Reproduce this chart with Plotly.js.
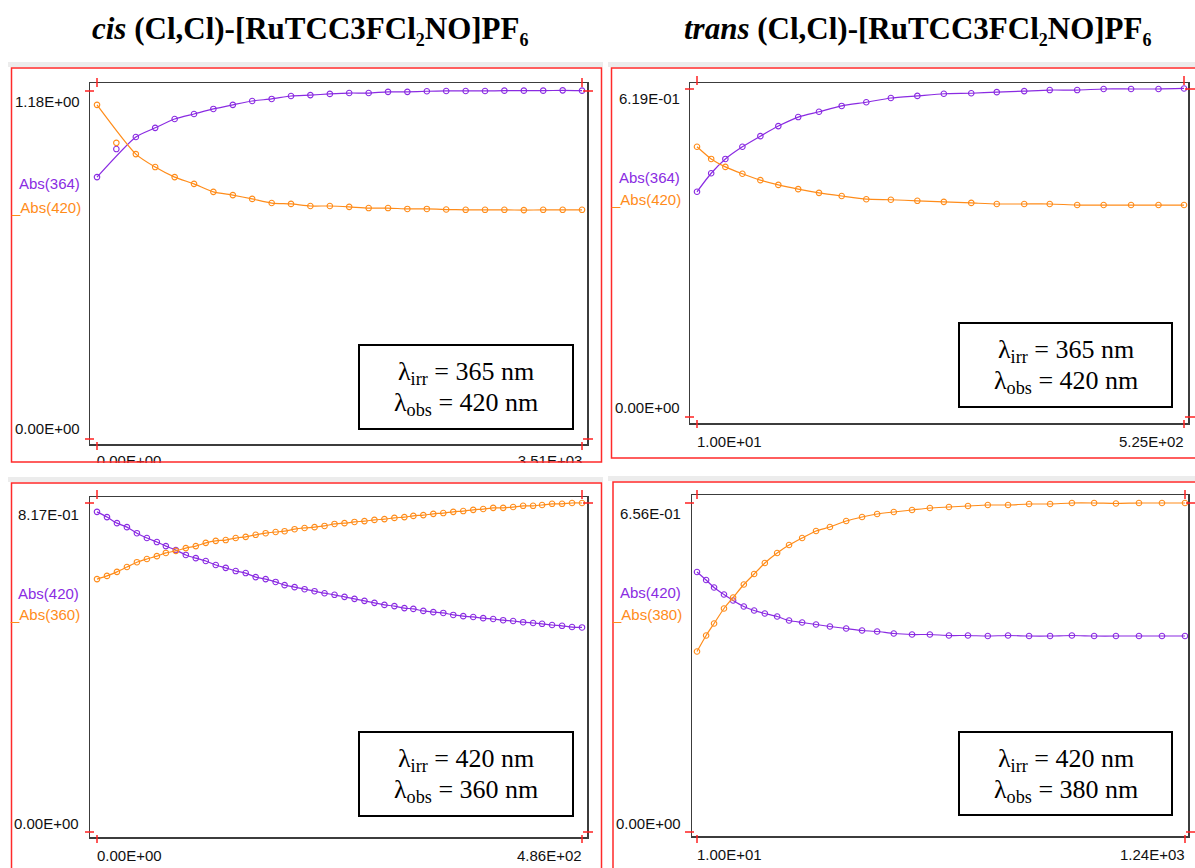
<!DOCTYPE html>
<html><head><meta charset="utf-8">
<script src="https://cdn.plot.ly/plotly-3.0.1.min.js"></script>
<style>html,body{margin:0;padding:0;background:#fff;}#chart{width:1195px;height:868px;}</style>
</head><body><div id="chart"></div>
<script>
const PURPLE = '#8a2be2', ORANGE = '#ff8c1a';

// Panel A: cis, irr 365 / obs 420
const timeA = [0,140,281,421,562,702,842,983,1123,1264,1404,1544,1685,1825,1966,2106,2246,2387,2527,2668,2808,2948,3089,3229,3370,3510];
const absA364 = [0.888,0.983,1.024,1.055,1.085,1.102,1.119,1.133,1.146,1.153,1.163,1.166,1.170,1.173,1.173,1.177,1.177,1.179,1.180,1.180,1.180,1.181,1.181,1.181,1.182,1.181];
const absA420 = [1.133,1.004,0.966,0.922,0.888,0.865,0.838,0.827,0.814,0.800,0.797,0.790,0.790,0.787,0.783,0.783,0.780,0.780,0.778,0.777,0.777,0.777,0.776,0.777,0.777,0.777];

// Panel B: trans, irr 365 / obs 420
const timeB = [10,25,40,58,77,96,117,139,163,189,215,243,271,300,327,356,383,412,440,469,498,525];
const absB364 = [0.425,0.460,0.487,0.510,0.530,0.549,0.566,0.576,0.587,0.594,0.602,0.606,0.610,0.611,0.613,0.615,0.617,0.617,0.619,0.619,0.619,0.620];
const absB420 = [0.510,0.487,0.472,0.459,0.447,0.438,0.430,0.423,0.417,0.411,0.410,0.408,0.406,0.404,0.402,0.402,0.402,0.400,0.400,0.400,0.400,0.400];

// Panel C: cis, irr 420 / obs 360
const timeC = [0,10,20,30,40,50,60,69,79,89,99,109,119,129,139,149,159,169,179,188,198,208,218,228,238,248,258,268,278,288,298,308,317,327,337,347,357,367,377,387,397,407,417,427,437,446,456,466,476,486];
const absC420 = [0.795,0.782,0.767,0.757,0.742,0.730,0.720,0.710,0.700,0.688,0.680,0.673,0.663,0.656,0.648,0.643,0.633,0.628,0.621,0.613,0.608,0.603,0.598,0.593,0.589,0.584,0.579,0.574,0.569,0.564,0.561,0.556,0.554,0.549,0.546,0.544,0.539,0.536,0.534,0.531,0.529,0.526,0.524,0.521,0.519,0.517,0.514,0.512,0.509,0.508];
const absC360 = [0.628,0.636,0.646,0.658,0.670,0.678,0.685,0.693,0.698,0.705,0.710,0.718,0.723,0.725,0.730,0.733,0.738,0.742,0.745,0.747,0.752,0.755,0.757,0.760,0.765,0.767,0.770,0.772,0.775,0.777,0.780,0.782,0.785,0.787,0.790,0.792,0.795,0.797,0.800,0.802,0.805,0.805,0.807,0.810,0.810,0.812,0.815,0.815,0.817,0.817];

// Panel D: trans, irr 420 / obs 380
const timeD = [10,33,53,78,101,128,154,181,212,242,275,310,345,386,426,464,506,552,597,645,693,743,794,847,900,955,1011,1066,1124,1182,1240];
const absD420 = [0.518,0.502,0.487,0.473,0.461,0.449,0.441,0.435,0.429,0.421,0.417,0.413,0.409,0.405,0.401,0.399,0.395,0.393,0.393,0.391,0.391,0.390,0.391,0.390,0.390,0.391,0.390,0.390,0.390,0.390,0.390];
const absD380 = [0.359,0.391,0.415,0.445,0.467,0.493,0.514,0.536,0.556,0.572,0.586,0.600,0.608,0.620,0.628,0.634,0.638,0.642,0.646,0.648,0.650,0.652,0.652,0.654,0.654,0.656,0.656,0.655,0.656,0.656,0.656];

const xTickTextA = ['0.00E+00', '3.51E+03'];
const SUB = t => "<sub><span style='font-size:18px'>" + t + "</span></sub>";
const titles = ['<i>cis</i> (Cl,Cl)-[RuTCC3FCl' + SUB('2') + 'NO]PF' + SUB('6'),
                '<i>trans</i> (Cl,Cl)-[RuTCC3FCl' + SUB('2') + 'NO]PF' + SUB('6')];
const W = 1195, H = 868;
const PX = x => x / W, PY = y => 1 - y / H;
const TICKFONT = {family: 'Liberation Sans', size: 15, color: '#111'};

const panels = [
  {x: timeA, s1: absA364, s2: absA420, n1: 'Abs(364)', n2: '_Abs(420)', skip: [1],
   dom: [90, 587, 83, 444], xr: [-50.7, 3546], yr: [-0.017, 1.207],
   ytop: '1.18E+00', xl: null, xr_lab: null, irr: '365', obs: '420',
   pxTick: [97, 582], pyTick: [91, 439], box: [359, 573, 345, 429],
   ylabTop: 101, ylabBot: 428, labR: 82, leg: [184, 207], xlabY: null},
  {x: timeB, s1: absB364, s2: absB420, n1: 'Abs(364)', n2: '_Abs(420)', skip: [],
   dom: [690, 1188, 83, 423], xr: [2.6, 529.2], yr: [-0.0113, 0.6303],
   ytop: '6.19E-01', xl: '1.00E+01', xr_lab: '5.25E+02', irr: '365', obs: '420',
   pxTick: [697, 1184], pyTick: [89, 417], box: [959, 1172, 323, 407],
   ylabTop: 98, ylabBot: 408, labR: 682, leg: [178, 199], xlabY: 441},
  {x: timeC, s1: absC420, s2: absC360, n1: 'Abs(420)', n2: '_Abs(360)', skip: [],
   dom: [90, 587, 497, 837], xr: [-7.01, 491], yr: [-0.0124, 0.8319],
   ytop: '8.17E-01', xl: '0.00E+00', xr_lab: '4.86E+02', irr: '420', obs: '360',
   pxTick: [97, 582], pyTick: [503, 832], box: [359, 573, 732, 816],
   ylabTop: 514, ylabBot: 823, labR: 81, leg: [593, 614], xlabY: 855},
  {x: timeD, s1: absD420, s2: absD380, n1: 'Abs(420)', n2: '_Abs(380)', skip: [],
   dom: [692, 1188, 495, 836], xr: [-2.6, 1247.6], yr: [-0.00997, 0.672],
   ytop: '6.56E-01', xl: '1.00E+01', xr_lab: '1.24E+03', irr: '420', obs: '380',
   pxTick: [697, 1185], pyTick: [503, 832], box: [959, 1172, 732, 815],
   ylabTop: 513, ylabBot: 823, labR: 683, leg: [592, 614], xlabY: 854}
];

const data = [], shapes = [], annotations = [];
const layout = {width: W, height: H, margin: {l: 0, r: 0, t: 0, b: 0}, showlegend: false,
  paper_bgcolor: '#fff', plot_bgcolor: '#fff', shapes, annotations};

function pline(x0, y0, x1, y1, color, width) {
  shapes.push({type: 'line', xref: 'paper', yref: 'paper', x0: PX(x0), x1: PX(x1), y0: PY(y0), y1: PY(y1),
    line: {color, width}});
}
function prect(x0, y0, x1, y1, color, width, fill, layer) {
  shapes.push({type: 'rect', xref: 'paper', yref: 'paper', x0: PX(x0), x1: PX(x1), y0: PY(y0), y1: PY(y1),
    line: {color, width}, fillcolor: fill || 'rgba(0,0,0,0)', layer: layer || 'above'});
}
function label(text, x, y, xanchor, color, size, family) {
  annotations.push({text, x: PX(x), y: PY(y), xref: 'paper', yref: 'paper', xanchor, yanchor: 'middle',
    showarrow: false, font: {family: family || TICKFONT.family, size: size || TICKFONT.size, color: color || TICKFONT.color}});
}

// white cover hiding the lower part of the first panel's clipped x tick labels
prect(0, 463, 606, 476, 'rgba(0,0,0,0)', 0, '#fff', 'above');
// window chrome bands and red frames
prect(8, 62, 603, 67, 'rgba(0,0,0,0)', 0, '#ececec', 'below');
prect(608, 62, 1195, 67, 'rgba(0,0,0,0)', 0, '#ececec', 'below');
prect(8, 477, 603, 482, 'rgba(0,0,0,0)', 0, '#ececec', 'below');
prect(608, 476, 1195, 481, 'rgba(0,0,0,0)', 0, '#ececec', 'below');
prect(11.5, 68, 601.5, 462, '#ff2a2a', 1.5);
prect(611.5, 68, 1197, 458, '#ff2a2a', 1.5);
prect(11.5, 483, 601.5, 875, '#ff2a2a', 1.5);
prect(613, 482, 1197, 875, '#ff2a2a', 1.5);

panels.forEach((p, i) => {
  const k = i === 0 ? '' : String(i + 1);
  const xa = {domain: [PX(p.dom[0]), PX(p.dom[1])], range: p.xr, anchor: 'y' + k,
    showline: true, mirror: true, linecolor: '#3c3c3c', linewidth: 1.5, showgrid: false, zeroline: false,
    showticklabels: false, ticks: '', fixedrange: true};
  if (i === 0) {
    // first panel: tick labels sit half-hidden under the red frame, left/right aligned to the end ticks
    const scale = (p.pxTick[1] - p.pxTick[0]) / (timeA[timeA.length - 1] - timeA[0]);
    const halfW = 32;
    Object.assign(xa, {showticklabels: true, tickmode: 'array',
      tickvals: [timeA[0] + halfW / scale, timeA[timeA.length - 1] - halfW / scale],
      ticktext: xTickTextA, tickfont: TICKFONT, ticklabelstandoff: 2});
  }
  layout['xaxis' + k] = xa;
  layout['yaxis' + k] = {domain: [PY(p.dom[3]), PY(p.dom[2])], range: p.yr, anchor: 'x' + k,
    showline: true, mirror: true, linecolor: '#3c3c3c', linewidth: 1.5, showgrid: false, zeroline: false,
    showticklabels: false, ticks: '', fixedrange: true};
  [[p.s1, PURPLE], [p.s2, ORANGE]].forEach(([ys, c]) => {
    const lx = [], ly = [];
    p.x.forEach((v, j) => { if (!p.skip.includes(j)) { lx.push(v); ly.push(ys[j]); } });
    data.push({type: 'scatter', mode: 'lines', x: lx, y: ly, xaxis: 'x' + k, yaxis: 'y' + k,
      line: {color: c, width: 1.2, shape: 'spline', smoothing: 0.6}, hoverinfo: 'skip', cliponaxis: false});
    data.push({type: 'scatter', mode: 'markers', x: p.x, y: ys, xaxis: 'x' + k, yaxis: 'y' + k,
      marker: {symbol: 'circle-open', size: 5.5, color: c, line: {width: 1.1, color: c}}, cliponaxis: false});
  });
  // red tick crosses at the axis extremes
  const [xa0, xb] = p.pxTick, [yt, yb] = p.pyTick;
  const R = '#ff2020';
  pline(xa0 - 12, yt, xa0 - 3, yt, R, 1.5); pline(xa0, yt - 4, xa0, yt - 13, R, 1.5);
  pline(xa0 - 12, yb, xa0 - 3, yb, R, 1.5); pline(xa0, yb + 3, xa0, yb + 11, R, 1.5);
  pline(xb + 1, yb, xb + 11, yb, R, 1.5); pline(xb, yb + 3, xb, yb + 11, R, 1.5);
  pline(xb + 1, yt, xb + 11, yt, R, 1.5); pline(xb, yt - 4, xb, yt - 13, R, 1.5);
  // tick labels
  label(p.ytop, p.labR, p.ylabTop, 'right');
  label('0.00E+00', p.labR, p.ylabBot, 'right');
  if (p.xl) { label(p.xl, xa0 - 2, p.xlabY, 'left'); label(p.xr_lab, xb + 2, p.xlabY, 'right'); }
  label(p.n1, p.labR, p.leg[0], 'right', PURPLE);
  label(p.n2, p.labR + 1, p.leg[1], 'right', ORANGE);
  // wavelength box
  const [bx0, bx1, by0, by1] = p.box;
  prect(bx0, by0, bx1, by1, '#000', 2, '#fff');
  const cx = (bx0 + bx1) / 2;
  label('λ<sub>irr</sub> = ' + p.irr + ' nm', cx, by0 + 28, 'center', '#000', 26, 'Liberation Serif');
  label('λ<sub>obs</sub> = ' + p.obs + ' nm', cx, by0 + 59, 'center', '#000', 26, 'Liberation Serif');
});

label('<b>' + titles[0] + '</b>', 310, 30, 'center', '#000', 31, 'Liberation Serif');
label('<b>' + titles[1] + '</b>', 918, 30, 'center', '#000', 31, 'Liberation Serif');

Plotly.newPlot('chart', data, layout, {staticPlot: true, displayModeBar: false});
</script>
</body></html>
